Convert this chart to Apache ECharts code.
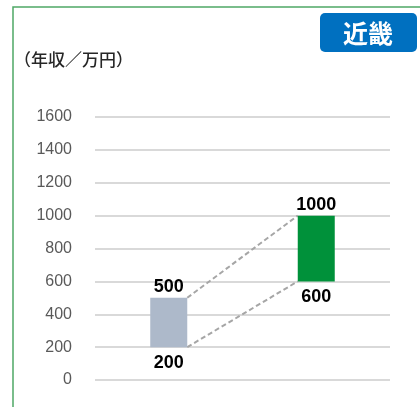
<!DOCTYPE html>
<html>
<head>
<meta charset="utf-8">
<script src="https://cdn.jsdelivr.net/npm/echarts@6/dist/echarts.min.js"></script>
<style>html,body{margin:0;padding:0;background:#fff}#main{width:420px;height:407px}</style>
</head>
<body>
<div id="main"></div>
<script>
// data
const categories = ['前', '後'];
const lows = [200, 600];
const highs = [500, 1000];
const barColors = ['#ADB9CA', '#00913A'];
const unitLabel = '（年収／万円）';
const regionLabel = '近畿';

const chart = echarts.init(document.getElementById('main'));
const BAR_W = 37;
const numFont = 'Liberation Sans, Arial, sans-serif';

// connector segments between consecutive bars (top-top, bottom-bottom)
const links = [];
for (let i = 0; i < categories.length - 1; i++) {
  links.push([i, highs[i], i + 1, highs[i + 1]]);
  links.push([i, lows[i], i + 1, lows[i + 1]]);
}

chart.setOption({
  animation: false,
  grid: { left: 95, right: 30, top: 117, bottom: 27 },
  xAxis: {
    type: 'category', data: categories,
    axisLine: { show: false }, axisTick: { show: false }, axisLabel: { show: false }
  },
  yAxis: {
    type: 'value', min: 0, max: 1600, interval: 200,
    axisLine: { show: false }, axisTick: { show: false },
    axisLabel: { color: '#595959', fontSize: 16, fontFamily: numFont, margin: 23, formatter: v => String(v) },
    splitLine: { lineStyle: { color: '#D9D9D9', width: 2 } }
  },
  graphic: [
    { type: 'polyline', shape: { points: [[13, 420], [13, 7], [430, 7]] },
      style: { stroke: '#4FA866', lineWidth: 1.5, fill: null } },
    { type: 'rect', shape: { x: 320, y: 13, width: 97, height: 39, r: 5 },
      style: { fill: '#0070C0' } },
    { type: 'text', x: 368, y: 33,
      style: { text: regionLabel, fill: '#fff', font: 'bold 25px "Noto Sans CJK JP"', align: 'center', verticalAlign: 'middle' } },
    { type: 'text', x: 14, y: 60,
      style: { text: unitLabel, fill: '#262626', font: '500 17px "Noto Sans CJK JP"', verticalAlign: 'middle' } }
  ],
  series: [
    {
      type: 'bar', stack: 'r', barWidth: BAR_W, data: lows,
      itemStyle: { color: 'transparent' },
      label: { show: true, position: 'insideTop', distance: 7, color: '#000', fontWeight: 'bold', fontSize: 18, fontFamily: numFont }
    },
    {
      type: 'bar', stack: 'r', barWidth: BAR_W,
      data: highs.map((h, i) => ({ value: h - lows[i], itemStyle: { color: barColors[i] } })),
      label: { show: true, position: 'top', distance: 2, color: '#000', fontWeight: 'bold', fontSize: 18, fontFamily: numFont,
        formatter: p => String(highs[p.dataIndex]) }
    },
    {
      type: 'custom', data: links, z: 1,
      renderItem: (params, api) => {
        const a = api.coord([api.value(0), api.value(1)]);
        const b = api.coord([api.value(2), api.value(3)]);
        return {
          type: 'line',
          shape: { x1: a[0] + BAR_W / 2, y1: a[1], x2: b[0] - BAR_W / 2, y2: b[1] },
          style: { stroke: '#A6A6A6', lineWidth: 2, lineDash: [5, 3] }
        };
      }
    }
  ]
});
</script>
</body>
</html>
